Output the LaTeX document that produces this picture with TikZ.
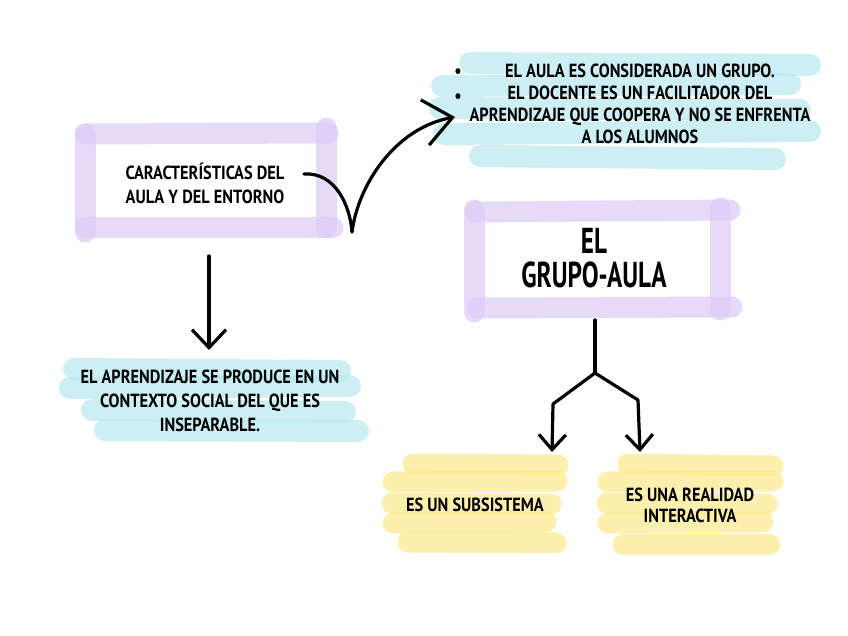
\documentclass[tikz,border=0pt]{standalone}
\usepackage{fontspec}
\setmainfont{PT Sans}[FakeStretch=0.86]
\newfontfamily\titlefont{PT Sans}[FakeStretch=0.7]
\usetikzlibrary{positioning,arrows.meta}
\definecolor{lila}{RGB}{218,204,246}
\definecolor{celeste}{RGB}{184,232,240}
\definecolor{amarillo}{RGB}{252,234,140}

\begin{document}
\begin{tikzpicture}[x=1pt, y=-1pt,
  marker/.style={line width=21pt, line cap=round, opacity=0.7},
  lilamk/.style={marker, draw=lila},
  celmk/.style={marker, draw=celeste, line width=22pt},
  amamk/.style={marker, draw=amarillo, line width=21pt},
  txt/.style={font=\bfseries\fontsize{19}{24}\selectfont, align=center, inner sep=1pt},
  title/.style={font=\titlefont\bfseries\fontsize{36}{34}\selectfont, align=center, inner sep=1pt},
  pen/.style={line width=3.2pt, line cap=round, line join=round},
  arrow/.style={pen, -{Straight Barb[length=18pt,width=34pt]}},
]
\useasboundingbox (0,0) rectangle (848,636);

% marker strokes
\draw[lilamk] (85,134) -- (328,133);
\draw[lilamk] (85,228) -- (333,228);
\draw[lilamk] (85,134) -- (85,232);
\draw[lilamk] (326,128) -- (326,228);

\draw[lilamk] (475,212) -- (730,210);
\draw[lilamk] (477,308) -- (732,307);
\draw[lilamk] (474,210) -- (474,312);
\draw[lilamk] (720,208) -- (720,310);

\draw[celmk] (470,63) -- (810,65);
\draw[celmk] (442,86) -- (790,84);
\draw[celmk] (440,108) -- (800,110);
\draw[celmk] (444,134) -- (810,131);
\draw[celmk] (480,156) -- (775,159);

\draw[celmk] (74,369) -- (340,371);
\draw[celmk] (70,388) -- (350,386);
\draw[celmk] (92,410) -- (345,412);
\draw[celmk] (105,430) -- (358,431);

\draw[amamk] (413,464) -- (558,465);
\draw[amamk] (393,482) -- (557,481);
\draw[amamk] (392,503) -- (551,504);
\draw[amamk] (393,523) -- (546,522);
\draw[amamk] (408,542) -- (556,543);

\draw[amamk] (628,464) -- (773,466);
\draw[amamk] (608,482) -- (773,481);
\draw[amamk] (607,503) -- (767,504);
\draw[amamk] (608,523) -- (763,522);
\draw[amamk] (623,544) -- (770,544);

% texts
\node[txt] (carac) at (205,183) {CARACTERÍSTICAS DEL\\AULA Y DEL ENTORNO};
\node[title] (grupo) at (594,258) {EL\\GRUPO-AULA};
\node[txt, font=\bfseries\fontsize{19}{22}\selectfont] (lista) at (640,104)
  {EL AULA ES CONSIDERADA UN GRUPO.\\EL DOCENTE ES UN FACILITADOR DEL\\
   APRENDIZAJE QUE COOPERA Y NO SE ENFRENTA\\A LOS ALUMNOS};
\node[txt] (bul1) at (458,73) {•};
\node[txt] (bul2) at (458,98) {•};
\node[txt] (contexto) at (210,401)
  {EL APRENDIZAJE SE PRODUCE EN UN\\CONTEXTO SOCIAL DEL QUE ES\\INSEPARABLE.};
\node[txt] (subsis) at (475,505) {ES UN SUBSISTEMA};
\node[txt, font=\bfseries\fontsize{19}{21}\selectfont] (realidad) at (690,505)
  {ES UNA REALIDAD\\INTERACTIVA};

% connectors
\coordinate (d0) at (209,256);
\coordinate (d1) at (209,350);
\draw[arrow] (d0) -- (d1);

\coordinate (c0) at (304,174);
\coordinate (c1) at (352,232);
\coordinate (c2) at (455,117);
\draw[pen] (c0) .. controls (335,172) and (350,205) .. (c1);
\draw[pen, -{Straight Barb[length=28pt,width=46pt]}] (c1) .. controls (358,185) and (395,128) .. (c2);

\coordinate (f0) at (595,320);
\coordinate (f1) at (595,373);
\coordinate (fl) at (553,404);
\coordinate (fr) at (638,400);
\coordinate (fle) at (552,452);
\coordinate (fre) at (640,452);
\draw[pen] (f0) -- (f1);
\draw[pen, -{Straight Barb[length=15pt,width=27pt]}] (f1) -- (fl) -- (fle);
\draw[pen, -{Straight Barb[length=15pt,width=27pt]}] (f1) -- (fr) -- (fre);
\end{tikzpicture}
\end{document}
